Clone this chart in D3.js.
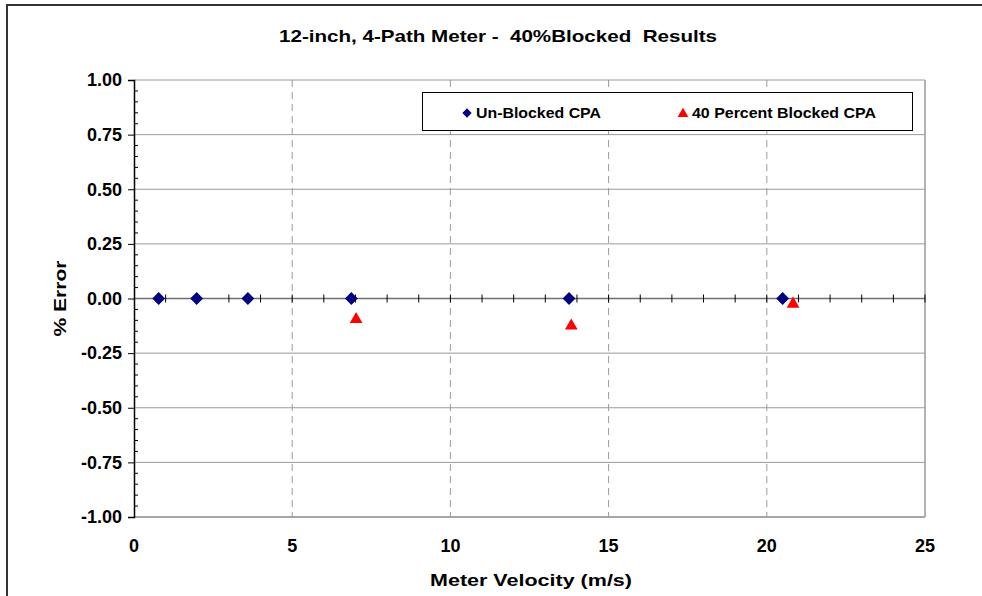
<!DOCTYPE html>
<html>
<head>
<meta charset="utf-8">
<script src="https://cdn.jsdelivr.net/npm/d3@7"></script>
<style>
  body { margin: 0; background: #fff; }
  text { font-family: "Liberation Sans", Arial, sans-serif; font-weight: bold; }
</style>
</head>
<body>
<script>
// data
var unblockedVel = [0.78, 1.98, 3.6, 6.87, 13.75, 20.5];
var unblockedErr = [0, 0, 0, 0, 0, 0];
var blockedVel = [7.02, 13.82, 20.83];
var blockedErr = [-0.095, -0.125, -0.025];
var xTicks = [0, 5, 10, 15, 20, 25];
var yTicks = [1, 0.75, 0.5, 0.25, 0, -0.25, -0.5, -0.75, -1];

var w = 982, h = 596;
var plotL = 134, plotR = 925, plotT = 80, plotB = 517;

var svg = d3.select("body").append("svg")
  .attr("width", w)
  .attr("height", h);

// outer frame
svg.append("rect")
  .attr("x", 7).attr("y", 5)
  .attr("width", 990).attr("height", 620)
  .attr("fill", "none")
  .attr("stroke", "#333")
  .attr("stroke-width", 2);

var x = d3.scaleLinear().domain([0, 25]).range([plotL, plotR]);
var y = d3.scaleLinear().domain([-1, 1]).range([plotB, plotT]);

// horizontal grid
svg.selectAll(".hgrid")
  .data(yTicks.filter(d => d != 0))
  .enter().append("line")
  .attr("x1", plotL).attr("x2", plotR)
  .attr("y1", d => y(d)).attr("y2", d => y(d))
  .attr("stroke", "#9a9a9a")
  .attr("stroke-width", 1);

// vertical dashed grid
svg.selectAll(".vgrid")
  .data([5, 10, 15, 20])
  .enter().append("line")
  .attr("x1", d => x(d)).attr("x2", d => x(d))
  .attr("y1", plotT).attr("y2", plotB)
  .attr("stroke", "#9a9a9a")
  .attr("stroke-dasharray", "7,5")
  .attr("stroke-width", 1);

// plot border right / bottom
svg.append("line")
  .attr("x1", plotR).attr("x2", plotR).attr("y1", plotT).attr("y2", plotB)
  .attr("stroke", "#9a9a9a").attr("stroke-width", 1.5);
svg.append("line")
  .attr("x1", plotL).attr("x2", plotR).attr("y1", plotB).attr("y2", plotB)
  .attr("stroke", "#9a9a9a").attr("stroke-width", 1.5);

// zero line with crossing ticks
svg.append("line")
  .attr("x1", plotL).attr("x2", plotR).attr("y1", y(0)).attr("y2", y(0))
  .attr("stroke", "#707070").attr("stroke-width", 1.5);
svg.selectAll(".xtick")
  .data(d3.range(1, 26))
  .enter().append("line")
  .attr("x1", d => x(d)).attr("x2", d => x(d))
  .attr("y1", y(0) - 4).attr("y2", y(0) + 4)
  .attr("stroke", "#000").attr("stroke-width", 1);

// y axis
var yAxis = d3.axisLeft(y)
  .tickValues(yTicks)
  .tickSize(6)
  .tickFormat(d => d3.format(".2f")(d).replace("\u2212", "-"));
var yg = svg.append("g")
  .attr("transform", `translate(${plotL},0)`)
  .call(yAxis);
yg.attr("font-size", 18).attr("font-family", null);
yg.select(".domain").attr("stroke", "#000").attr("stroke-width", 1.5);
yg.selectAll(".tick line").attr("stroke", "#000");
yg.selectAll(".tick text")
  .attr("x", -12)
  .attr("fill", "#000");

// y minor ticks
svg.selectAll(".yminor")
  .data(d3.range(-20, 21).filter(i => i % 5 != 0).map(i => i * 0.05))
  .enter().append("line")
  .attr("x1", plotL).attr("x2", plotL + 4)
  .attr("y1", d => y(d)).attr("y2", d => y(d))
  .attr("stroke", "#000").attr("stroke-width", 1);

// x tick labels
svg.selectAll(".xlab")
  .data(xTicks)
  .enter().append("text")
  .attr("x", d => x(d))
  .attr("y", 552)
  .attr("text-anchor", "middle")
  .attr("font-size", 18)
  .text(d => d);

// titles
svg.append("text")
  .attr("x", 498).attr("y", 42)
  .attr("text-anchor", "middle")
  .attr("font-size", 17)
  .attr("textLength", 438)
  .attr("lengthAdjust", "spacingAndGlyphs")
  .attr("xml:space", "preserve")
  .text("12-inch, 4-Path Meter -  40%Blocked  Results");

svg.append("text")
  .attr("x", 531).attr("y", 586)
  .attr("text-anchor", "middle")
  .attr("font-size", 17)
  .attr("textLength", 202)
  .attr("lengthAdjust", "spacingAndGlyphs")
  .text("Meter Velocity (m/s)");

svg.append("text")
  .attr("transform", `translate(66,${y(0)}) rotate(-90)`)
  .attr("text-anchor", "middle")
  .attr("font-size", 17)
  .attr("textLength", 76)
  .attr("lengthAdjust", "spacingAndGlyphs")
  .text("% Error");

// series
var diamond = d3.symbol().type(d3.symbolDiamond2).size(105);
var triangle = d3.symbol().type(d3.symbolTriangle).size(70);

svg.selectAll(".ub")
  .data(unblockedVel)
  .enter().append("path")
  .attr("d", diamond)
  .attr("transform", (d, i) => `translate(${x(d)},${y(unblockedErr[i])})`)
  .attr("fill", "#000080");

svg.selectAll(".bl")
  .data(blockedVel)
  .enter().append("path")
  .attr("d", triangle)
  .attr("transform", (d, i) => `translate(${x(d)},${y(blockedErr[i])})`)
  .attr("fill", "#ff0000");

// legend
var lg = svg.append("g");
lg.append("rect")
  .attr("x", 422.5).attr("y", 92.5)
  .attr("width", 490).attr("height", 38)
  .attr("fill", "#fff")
  .attr("stroke", "#000").attr("stroke-width", 1);
lg.append("path")
  .attr("d", d3.symbol().type(d3.symbolDiamond2).size(55))
  .attr("transform", "translate(467,113)")
  .attr("fill", "#000080");
lg.append("text")
  .attr("x", 476).attr("y", 118)
  .attr("font-size", 14)
  .attr("textLength", 125)
  .attr("lengthAdjust", "spacingAndGlyphs")
  .text("Un-Blocked CPA");
lg.append("path")
  .attr("d", d3.symbol().type(d3.symbolTriangle).size(50))
  .attr("transform", "translate(683,114)")
  .attr("fill", "#ff0000");
lg.append("text")
  .attr("x", 692).attr("y", 118)
  .attr("font-size", 14)
  .attr("textLength", 184)
  .attr("lengthAdjust", "spacingAndGlyphs")
  .text("40 Percent Blocked CPA");
</script>
</body>
</html>
